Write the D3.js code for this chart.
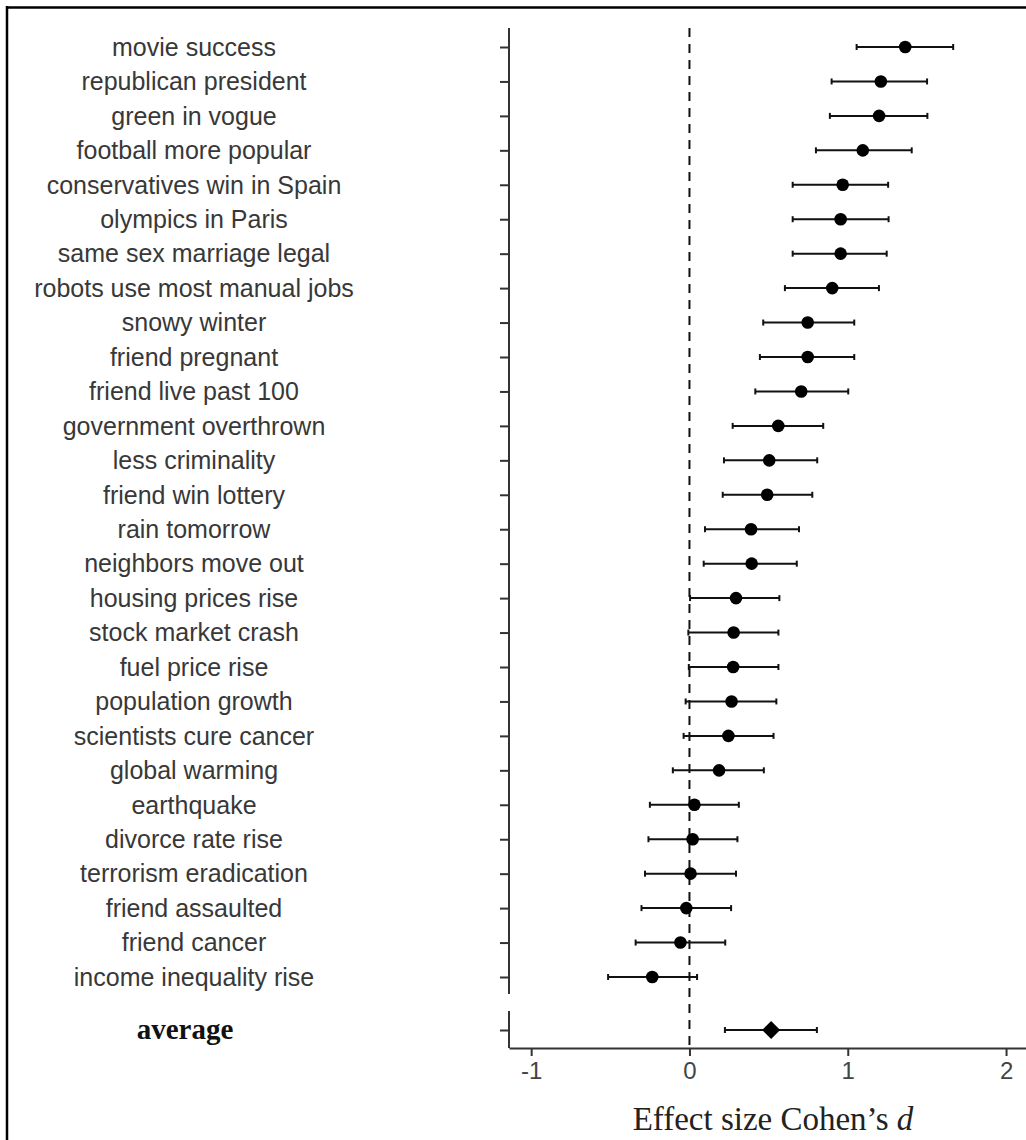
<!DOCTYPE html>
<html>
<head>
<meta charset="utf-8">
<title>Effect size forest plot</title>
<script src="https://cdn.jsdelivr.net/npm/d3@7"></script>
<style>
  body { margin: 0; background: #fff; }
  .lbl { font-family: "Liberation Sans", Arial, sans-serif; font-size: 25px; fill: #383838; }
  .tick text { font-family: "Liberation Sans", Arial, sans-serif; font-size: 24px; fill: #444; }
</style>
</head>
<body>
<svg id="main" width="1026" height="1140"></svg>
<script>
// data
var items = ["movie success", "republican president", "green in vogue", "football more popular",
  "conservatives win in Spain", "olympics in Paris", "same sex marriage legal", "robots use most manual jobs",
  "snowy winter", "friend pregnant", "friend live past 100", "government overthrown", "less criminality",
  "friend win lottery", "rain tomorrow", "neighbors move out", "housing prices rise", "stock market crash",
  "fuel price rise", "population growth", "scientists cure cancer", "global warming", "earthquake",
  "divorce rate rise", "terrorism eradication", "friend assaulted", "friend cancer", "income inequality rise"];
var effect = [1.363, 1.209, 1.198, 1.095, 0.968, 0.955, 0.955, 0.902, 0.747, 0.747, 0.706, 0.561, 0.504,
  0.491, 0.389, 0.393, 0.294, 0.279, 0.276, 0.266, 0.246, 0.187, 0.031, 0.020, 0.007, -0.020, -0.057, -0.235];
var ciLow = [1.056, 0.898, 0.887, 0.799, 0.652, 0.652, 0.652, 0.603, 0.466, 0.445, 0.416, 0.273, 0.218,
  0.210, 0.098, 0.090, 0.004, -0.007, -0.004, -0.024, -0.037, -0.105, -0.250, -0.259, -0.281, -0.303, -0.340, -0.514];
var ciHigh = [1.666, 1.501, 1.503, 1.404, 1.255, 1.258, 1.246, 1.197, 1.041, 1.041, 1.003, 0.845, 0.807,
  0.776, 0.692, 0.678, 0.568, 0.562, 0.562, 0.549, 0.531, 0.470, 0.312, 0.303, 0.294, 0.263, 0.226, 0.048];
var avgLabel = ["average"];
var avgEffect = [0.516];
var avgLow = [0.224];
var avgHigh = [0.805];
var xTicks = [-1, 0, 1, 2];

var svg = d3.select("#main");

// frame (top + left only, rest is cropped off)
svg.append("line").attr("x1", 7).attr("x2", 1026).attr("y1", 7.5).attr("y2", 7.5)
  .attr("stroke", "#000").attr("stroke-width", 2.5);
svg.append("line").attr("x1", 7).attr("x2", 7).attr("y1", 6).attr("y2", 1140)
  .attr("stroke", "#000").attr("stroke-width", 2.5);

var axisX = 509, axisY = 1048;
var x = d3.scaleLinear().domain([-1.14, 2.126]).range([axisX, 1026]);
var y = d3.scalePoint().domain(items).range([47, 977]);
var yAvg = d3.scalePoint().domain(avgLabel).range([1030, 1030]);

// zero line
svg.append("line")
  .attr("x1", x(0)).attr("x2", x(0)).attr("y1", 28).attr("y2", axisY)
  .attr("stroke", "#111").attr("stroke-width", 2).attr("stroke-dasharray", "9,7");

// left axes
function leftAxis(scale, top, bottom) {
  var g = svg.append("g").attr("transform", "translate(" + axisX + ",0)")
    .call(d3.axisLeft(scale).tickSize(9).tickSizeOuter(0).tickFormat(""));
  g.select(".domain").remove();
  g.selectAll(".tick line").attr("stroke", "#333").attr("stroke-width", 2);
  g.append("line").attr("x1", 0).attr("x2", 0).attr("y1", top).attr("y2", bottom)
    .attr("stroke", "#333").attr("stroke-width", 2);
}
leftAxis(y, 28, 994);
leftAxis(yAvg, 1011, axisY);

// x axis
var gx = svg.append("g").attr("transform", "translate(0," + axisY + ")")
  .call(d3.axisBottom(x).tickValues(xTicks).tickSize(8).tickSizeOuter(0).tickPadding(6)
    .tickFormat(function(d) { return d; }));
gx.select(".domain").attr("stroke", "#333").attr("stroke-width", 2);
gx.selectAll(".tick line").attr("stroke", "#333").attr("stroke-width", 2);

// row labels
svg.selectAll("text.lbl").data(items).enter().append("text")
  .attr("class", "lbl")
  .attr("x", 194).attr("y", function(d) { return y(d); })
  .attr("dy", "0.35em").attr("text-anchor", "middle")
  .text(function(d) { return d; });

svg.append("text")
  .attr("x", 185).attr("y", yAvg("average")).attr("dy", "0.3em")
  .attr("text-anchor", "middle")
  .style("font-family", "'Liberation Serif', 'Times New Roman', serif")
  .style("font-size", "29px").style("font-weight", "bold").style("fill", "#111")
  .text("average");

// error bars
function bars(labels, scale, mid, lo, hi) {
  var g = svg.append("g");
  labels.forEach(function(d, i) {
    var yy = scale(d);
    g.append("line").attr("x1", x(lo[i])).attr("x2", x(hi[i])).attr("y1", yy).attr("y2", yy)
      .attr("stroke", "#111").attr("stroke-width", 2);
    [lo[i], hi[i]].forEach(function(v) {
      g.append("line").attr("x1", x(v)).attr("x2", x(v)).attr("y1", yy - 3).attr("y2", yy + 3)
        .attr("stroke", "#111").attr("stroke-width", 2);
    });
  });
  return g;
}
var g1 = bars(items, y, effect, ciLow, ciHigh);
g1.selectAll("circle").data(items).enter().append("circle")
  .attr("cx", function(d, i) { return x(effect[i]); })
  .attr("cy", function(d) { return y(d); })
  .attr("r", 6.3).attr("fill", "#000");

var g2 = bars(avgLabel, yAvg, avgEffect, avgLow, avgHigh);
g2.selectAll("path.dm").data(avgLabel).enter().append("path")
  .attr("class", "dm")
  .attr("d", function(d, i) {
    var cx = x(avgEffect[i]), cy = yAvg(d), r = 9;
    return "M" + (cx - r) + "," + cy + "L" + cx + "," + (cy - r) + "L" + (cx + r) + "," + cy + "L" + cx + "," + (cy + r) + "Z";
  })
  .attr("fill", "#000");

// axis title
var title = svg.append("text")
  .attr("x", 773).attr("y", 1130).attr("text-anchor", "middle")
  .style("font-family", "'Liberation Serif', 'Times New Roman', serif")
  .style("font-size", "33px").style("fill", "#222");
title.append("tspan").text("Effect size Cohen\u2019s ");
title.append("tspan").style("font-style", "italic").text("d");
</script>
</body>
</html>
